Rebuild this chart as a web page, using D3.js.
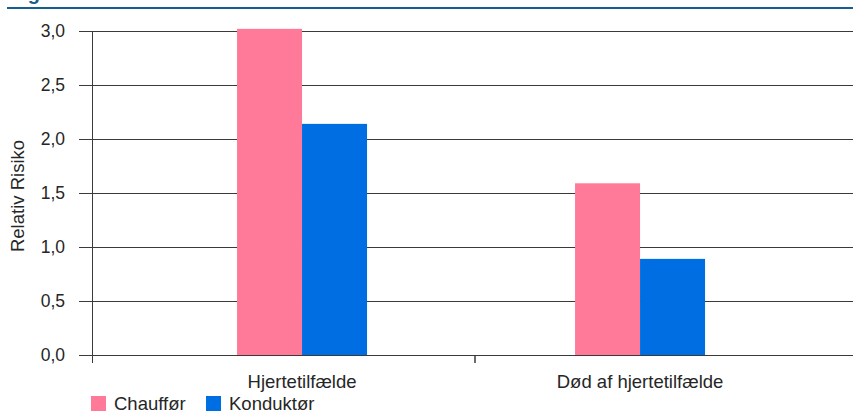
<!DOCTYPE html>
<html><head><meta charset="utf-8">
<script src="https://cdn.jsdelivr.net/npm/d3@7"></script>
<style>html,body{margin:0;padding:0;background:#fff;}svg{display:block;}</style>
</head><body>
<script>
const categories = ["Hjertetilfælde", "Død af hjertetilfælde"];
const seriesNames = ["Chauffør", "Konduktør"];
const chauffor = [3.02, 1.59];
const konduktor = [2.14, 0.89];
const yTicks = [0, 0.5, 1.0, 1.5, 2.0, 2.5, 3.0];
const colors = ["#ff7a99", "#006ee3"];

const W = 853, H = 412;
const font = "'Liberation Sans', Arial, sans-serif";
const svg = d3.select("body").append("svg").attr("width", W).attr("height", H);

// header line and clipped title
svg.append("text").attr("x", 10).attr("y", 0).attr("font-family", font).attr("font-weight", "bold")
  .attr("font-size", 20).attr("fill", "#165e8f").text("Fig");
svg.append("line").attr("x1", 7).attr("x2", W).attr("y1", 8).attr("y2", 8)
  .attr("stroke", "#165e8f").attr("stroke-width", 2.2);

const y = d3.scaleLinear().domain([0, 3]).range([355, 31]);
const x = d3.scaleBand().domain(categories).range([92, 858]).paddingInner(0).paddingOuter(0.1331).align(0.456);
const xs = d3.scaleBand().domain(seriesNames).range([0, x.bandwidth()]).paddingInner(0).paddingOuter(1.6);

const fmt = d => d3.format(".1f")(d).replace(".", ",");

// gridlines
svg.append("g").selectAll("line").data(yTicks).join("line")
  .attr("x1", 79).attr("x2", W).attr("y1", d => Math.round(y(d)) + 0.5).attr("y2", d => Math.round(y(d)) + 0.5)
  .attr("stroke", "#3a3a3a").attr("stroke-width", 1);

// y tick labels
svg.append("g").selectAll("text").data(yTicks).join("text")
  .attr("x", 65).attr("y", d => y(d)).attr("dy", "0.35em").attr("text-anchor", "end")
  .attr("font-family", font).attr("font-size", 17.5).attr("fill", "#262626").text(fmt);

// bars
const data = categories.map((c, i) => ({c, vals: [chauffor[i], konduktor[i]]}));
const grp = svg.append("g").selectAll("g").data(data).join("g")
  .attr("transform", d => `translate(${x(d.c)},0)`);
grp.selectAll("rect").data(d => d.vals.map((v, j) => ({s: seriesNames[j], v, j}))).join("rect")
  .attr("x", d => xs(d.s)).attr("width", xs.bandwidth())
  .attr("y", d => y(d.v)).attr("height", d => y(0) - y(d.v))
  .attr("fill", d => colors[d.j]);

// axes lines
svg.append("line").attr("x1", 92.5).attr("x2", 92.5).attr("y1", y(3)).attr("y2", 363)
  .attr("stroke", "#3a3a3a").attr("stroke-width", 1);
const r = x.range();
svg.append("line").attr("x1", (r[0] + r[1]) / 2).attr("x2", (r[0] + r[1]) / 2).attr("y1", 355).attr("y2", 363)
  .attr("stroke", "#3a3a3a").attr("stroke-width", 1.5);

// category labels
svg.append("g").selectAll("text").data(categories).join("text")
  .attr("x", d => x(d) + x.bandwidth() / 2).attr("y", 388).attr("text-anchor", "middle")
  .attr("font-family", font).attr("font-size", 18.5).attr("fill", "#262626").text(d => d);

// y label
svg.append("text").attr("transform", "translate(24,196) rotate(-90)").attr("text-anchor", "middle")
  .attr("font-family", font).attr("font-size", 18.5).attr("fill", "#262626").text("Relativ Risiko");

// legend
const legX = [91, 206];
const leg = svg.append("g").selectAll("g").data(seriesNames).join("g")
  .attr("transform", (d, i) => `translate(${legX[i]},396)`);
leg.append("rect").attr("width", 15).attr("height", 15).attr("fill", (d, i) => colors[i]);
leg.append("text").attr("x", 23).attr("y", 13.5).attr("font-family", font).attr("font-size", 18.5)
  .attr("fill", "#262626").text(d => d);
</script>
</body></html>
